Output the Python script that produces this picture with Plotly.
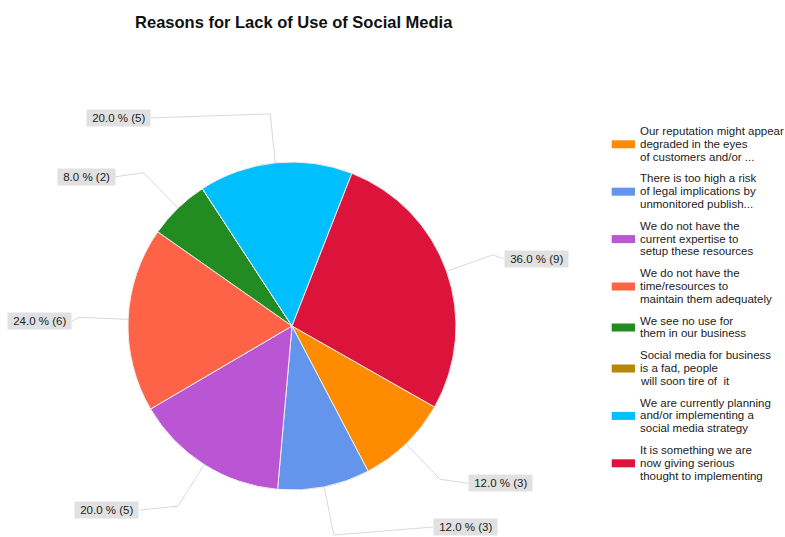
import math
import plotly.graph_objects as go

# Survey: reasons for lack of use of social media (25 respondents, several answers allowed)
answer_lines = [
    ["Our reputation might appear", "degraded in the eyes", "of customers and/or ..."],
    ["There is too high a risk", "of legal implications by", "unmonitored publish..."],
    ["We do not have the", "current expertise to", "setup these resources"],
    ["We do not have the", "time/resources to", "maintain them adequately"],
    ["We see no use for", "them in our business"],
    ["Social media for business", "is a fad, people", "will soon tire of\u00a0 it"],
    ["We are currently planning", "and/or implementing a", "social media strategy"],
    ["It is something we are", "now giving serious", "thought to implementing"],
]
answer_counts = [3, 3, 5, 6, 2, 0, 5, 9]
respondents = 25
slice_colors = ["#FF8C00", "#6495ED", "#BA55D3", "#FF6347",
                "#228B22", "#B8860B", "#00BFFF", "#DC143C"]

chart_title = "Reasons for Lack of Use of Social Media"

# Page geometry (pixels)
W, H = 785, 537
CX, CY, R = 292, 326, 164
ROTATION = 119.6
FONT = "Liberation Sans, Arial, sans-serif"
TEXT_COLOR = "#222222"


def px(x):
    return x / W


def py(y):
    return 1 - y / H


fig = go.Figure(go.Pie(
    labels=[" ".join(l) for l in answer_lines],
    values=answer_counts,
    sort=False,
    direction="clockwise",
    rotation=ROTATION,
    marker=dict(colors=slice_colors, line=dict(color="#eeeeee", width=1)),
    textinfo="none",
    hoverinfo="label+value",
    showlegend=False,
    domain=dict(x=[px(CX - R), px(CX + R)], y=[py(CY + R), py(CY - R)]),
))

shapes = []
annotations = []

# Outside value labels with elbow leader lines
total = sum(answer_counts)
cum = 0
for count in answer_counts:
    mid = math.radians(ROTATION + 360.0 * (cum + count / 2) / total)
    cum += count
    if count == 0:
        continue
    s, c = math.sin(mid), math.cos(mid)
    ex, ey = CX + R * s, CY - R * c
    bx, by = CX + 1.3 * R * s, CY - 1.3 * R * c
    side = 1 if s >= 0 else -1
    lx = CX + side * max(0.46 * R + 0.885 * R * abs(s), 0.86 * R)
    ly = min(by + 4, H - 10)  # keep the label box inside the page
    shapes.append(dict(
        type="path", xref="paper", yref="paper",
        path=f"M {px(ex)},{py(ey)} L {px(bx)},{py(by)} L {px(lx)},{py(ly)}",
        line=dict(color="#d9d9d9", width=1),
    ))
    pct = 100.0 * count / respondents
    annotations.append(dict(
        xref="paper", yref="paper", x=px(lx), y=py(ly),
        xanchor="left" if side > 0 else "right", yanchor="middle",
        text=f"\u00a0{pct:.1f} % ({count})\u00a0",
        showarrow=False, bgcolor="#e1e1e1", borderpad=2,
        font=dict(family=FONT, size=11.5, color=TEXT_COLOR),
    ))

# Legend: colour swatch plus wrapped answer text
LINE_PITCH = 12.8
ITEM_GAP = 9.0
SWATCH_X0, SWATCH_X1 = 611.7, 635.0
TEXT_X = 639.0
baseline = 135.0
for lines, color in zip(answer_lines, slice_colors):
    baselines = [baseline + i * LINE_PITCH for i in range(len(lines))]
    sw_c = sum(baselines) / len(baselines) - 3.5
    shapes.append(dict(
        type="rect", xref="paper", yref="paper",
        x0=px(SWATCH_X0), x1=px(SWATCH_X1), y0=py(sw_c + 4), y1=py(sw_c - 4),
        fillcolor=color, line=dict(width=0),
    ))
    for text, b in zip(lines, baselines):
        annotations.append(dict(
            xref="paper", yref="paper", x=px(TEXT_X), y=py(b - 4),
            xanchor="left", yanchor="middle", text=text, showarrow=False,
            borderpad=0, font=dict(family=FONT, size=11.5, color=TEXT_COLOR),
        ))
    baseline = baselines[-1] + LINE_PITCH + ITEM_GAP

fig.update_layout(
    width=W, height=H,
    margin=dict(l=0, r=0, t=0, b=0),
    paper_bgcolor="white", plot_bgcolor="white",
    title=dict(
        text=f"<b>{chart_title}</b>", x=px(293.7), xanchor="center",
        xref="paper", y=py(22.6), yref="container", yanchor="middle",
        font=dict(family=FONT, size=16.5, color="#111111"),
    ),
    shapes=shapes,
    annotations=annotations,
)

fig.write_html("out.html")
